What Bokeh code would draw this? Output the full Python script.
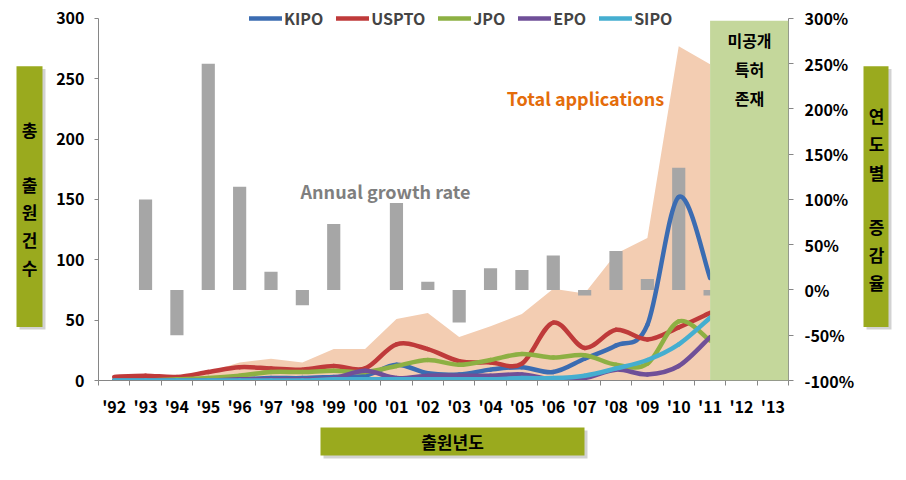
from bokeh.plotting import figure
from bokeh.layouts import row, column
from bokeh.models import (Range1d, LinearAxis, FixedTicker, PrintfTickFormatter,
                          BoxAnnotation, Label)
from bokeh.core.properties import value
from bokeh.embed import file_html
from bokeh.resources import INLINE

# ---------------- data ----------------
years = ["'92", "'93", "'94", "'95", "'96", "'97", "'98", "'99", "'00", "'01", "'02",
         "'03", "'04", "'05", "'06", "'07", "'08", "'09", "'10", "'11", "'12", "'13"]
kipo = [0, 0, 0, 0, 1, 2, 2, 3, 4, 13, 6, 5, 9, 11, 7, 18, 29, 46, 152, 85]
uspto = [3, 4, 3, 7, 11, 10, 9, 12, 10, 30, 26, 16, 15, 14, 48, 27, 42, 34, 44, 56]
jpo = [0, 0, 1, 2, 4, 7, 7, 8, 7, 12, 17, 13, 17, 22, 19, 21, 13, 14, 49, 33]
epo = [0, 0, 0, 0, 1, 1, 1, 2, 8, 2, 4, 4, 4, 5, 1, 2, 9, 5, 12, 36]
sipo = [0, 0, 0, 0, 0, 0, 0, 1, 1, 1, 1, 1, 1, 2, 2, 4, 10, 17, 30, 52]
total = [2, 4, 2, 7, 15, 18, 15, 26, 26, 51, 56, 36, 45, 55, 76, 72, 105, 118, 277, 262]
growth = [None, 100, -50, 250, 114, 20, -17, 73, 0, 96, 9, -36, 24, 22, 38, -6,
          43, 12, 135, -6, None, None]
series_names = ["KIPO", "USPTO", "JPO", "EPO", "SIPO"]
series_values = [kipo, uspto, jpo, epo, sipo]
series_colors = ["#3b6cb2", "#bf3a3a", "#8db043", "#6f4f98", "#45aed0"]
left_ticks = [0, 50, 100, 150, 200, 250, 300]
right_ticks = [-100, -50, 0, 50, 100, 150, 200, 250, 300]

FONT = "Noto Sans CJK KR"
OLIVE = "#9aaa1e"
n = len(years)
xc = [i + 0.5 for i in range(n)]

# page layout (px): left strip 0-50, main 50-858, right strip 858-906
LW, MW, RW = 50, 808, 48
TOPH, BOTH = 420, 58
FL, FB, FT = 98, 383, 18   # axis left / bottom / top (300) in page px
FRAME_TOP = 5              # frame extends above the axes so the legend fits
L_MAX, R_MIN, R_MAX = 300, -100, 300
pxu_l = (FB - FT) / L_MAX
pxu_r = (FB - FT) / (R_MAX - R_MIN)
extra = FT - FRAME_TOP

p = figure(width=MW, height=TOPH, output_backend="svg", toolbar_location=None,
           x_range=Range1d(0, n), y_range=Range1d(0, L_MAX + extra / pxu_l),
           min_border_left=FL - LW, min_border_right=LW + MW - 788,
           min_border_top=FRAME_TOP, min_border_bottom=TOPH - FB,
           outline_line_color=None, background_fill_color="white",
           border_fill_color="white")
p.grid.visible = False
p.extra_y_ranges = {"pct": Range1d(R_MIN, R_MAX + extra / pxu_r)}

AX = "#868686"
xa = p.xaxis[0]
xa.ticker = FixedTicker(ticks=xc, minor_ticks=list(range(n + 1)))
xa.major_label_overrides = {xc[i]: years[i] for i in range(n)}
xa.major_tick_line_color = None
xa.major_tick_out = 5
xa.minor_tick_out = 5
xa.minor_tick_in = 0
xa.minor_tick_line_color = AX
xa.axis_line_color = AX
xa.major_label_standoff = 8
xa.major_label_text_font = FONT
xa.major_label_text_font_style = "bold"
xa.major_label_text_font_size = "16px"
xa.major_label_text_color = "black"

ya = p.yaxis[0]
ya.ticker = FixedTicker(ticks=left_ticks)
ya.bounds = (0, L_MAX)
ya.minor_tick_line_color = None
ya.major_tick_out = 4
ya.major_tick_in = 0
ya.major_tick_line_color = AX
ya.axis_line_color = AX
ya.major_label_standoff = 10
ya.major_label_text_font = FONT
ya.major_label_text_font_style = "bold"
ya.major_label_text_font_size = "16px"
ya.major_label_text_color = "black"

ra = LinearAxis(y_range_name="pct", ticker=FixedTicker(ticks=right_ticks),
                formatter=PrintfTickFormatter(format="%d%%"), bounds=(R_MIN, R_MAX))
ra.minor_tick_line_color = None
ra.major_tick_out = 5
ra.major_tick_in = 0
ra.major_tick_line_color = AX
ra.axis_line_color = AX
ra.major_label_standoff = 11
ra.major_label_text_font = FONT
ra.major_label_text_font_style = "bold"
ra.major_label_text_font_size = "16px"
ra.major_label_text_color = "black"
p.add_layout(ra, "right")

# total applications area
p.varea(x=xc[:len(total)], y1=[0] * len(total), y2=total, fill_color="#f3cdb2")

# growth-rate bars
gx = [xc[i] for i in range(n) if growth[i] is not None]
gv = [g for g in growth if g is not None]
p.vbar(x=gx, top=gv, bottom=0, width=0.42, y_range_name="pct",
       fill_color="#a6a6a6", line_color=None)


# smoothed lines (Catmull-Rom -> cubic Bezier, like Excel smoothing)
def bez(xs, ys):
    m = len(xs)
    out = {k: [] for k in ["x0", "y0", "x1", "y1", "cx0", "cy0", "cx1", "cy1"]}
    for i in range(m - 1):
        a = max(i - 1, 0)
        d = min(i + 2, m - 1)
        out["x0"].append(xs[i]); out["y0"].append(ys[i])
        out["x1"].append(xs[i + 1]); out["y1"].append(ys[i + 1])
        out["cx0"].append(xs[i] + (xs[i + 1] - xs[a]) / 6.0)
        out["cy0"].append(ys[i] + (ys[i + 1] - ys[a]) / 6.0)
        out["cx1"].append(xs[i + 1] - (xs[d] - xs[i]) / 6.0)
        out["cy1"].append(ys[i + 1] - (ys[d] - ys[i]) / 6.0)
    return out


for name, vals, col in zip(series_names, series_values, series_colors):
    seg = bez(xc[:len(vals)], vals)
    p.bezier(line_color=col, line_width=4.5, line_cap="round",
             legend_label=name, **seg)

lg = p.legend[0]
lg.orientation = "horizontal"
lg.location = (151, 350)
lg.padding = 0
lg.margin = 0
lg.spacing = 13
lg.glyph_width = 33
lg.glyph_height = 20
lg.label_standoff = 2
lg.border_line_color = None
lg.background_fill_alpha = 0
lg.label_text_font = FONT
lg.label_text_font_style = "bold"
lg.label_text_font_size = "16px"


def sx(px):
    return px - FL


def sy(py):
    return FB - py


# unpublished-patent region
p.add_layout(BoxAnnotation(left=xc[years.index("'11")], right=n, bottom=0, top=298,
                           fill_color="#c4d79b", fill_alpha=1, line_color=None))
for txt, py in [("미공개", 42), ("특허", 71), ("존재", 100)]:
    p.add_layout(Label(x=sx(749), y=sy(py), x_units="screen", y_units="screen",
                       text=txt, text_font=FONT, text_font_size="16px",
                       text_font_style="bold", text_align="center",
                       text_baseline="middle", text_color="black"))

p.add_layout(Label(x=sx(385), y=sy(193), x_units="screen", y_units="screen",
                   text="Annual growth rate", text_font=FONT, text_font_size="18px",
                   text_font_style="bold", text_align="center", text_baseline="middle",
                   text_color="#7f7f7f"))
p.add_layout(Label(x=sx(585), y=sy(100), x_units="screen", y_units="screen",
                   text="Total applications", text_font=FONT, text_font_size="18px",
                   text_font_style="bold", text_align="center", text_baseline="middle",
                   text_color="#e46c0a"))


# ---------- side strips with olive title boxes ----------
def strip(w, h):
    f = figure(width=w, height=h, output_backend="svg", toolbar_location=None,
               x_range=Range1d(0, w), y_range=Range1d(h, 0),
               x_axis_type=None, y_axis_type=None, min_border=0,
               outline_line_color=None, background_fill_color="white",
               border_fill_color="white")
    f.grid.visible = False
    return f


def olive(f, l, t, r, b):
    f.quad(left=l + 3, right=r + 3, top=t + 3, bottom=b + 3,
           fill_color="#7f7f7f", fill_alpha=0.35, line_color=None)
    f.quad(left=l, right=r, top=t, bottom=b, fill_color=OLIVE, line_color=None)


def chars(f, x, items, size="17px"):
    f.text(x=[x] * len(items), y=[c[1] for c in items], text=[c[0] for c in items],
           text_font=value(FONT), text_font_size=size, text_font_style="bold",
           text_align="center", text_baseline="middle", text_color="black")


left = strip(LW, TOPH)
olive(left, 16, 68, 42, 360)
chars(left, 29, [("총", 139), ("출", 201), ("원", 231), ("건", 262), ("수", 293)])

rx0 = LW + MW
right = strip(RW, TOPH)
olive(right, 863 - rx0, 68, 888 - rx0, 360)
chars(right, 876 - rx0, [("연", 123), ("도", 155), ("별", 187), ("증", 248),
                         ("감", 279), ("율", 310)])

bottom = strip(LW + MW + RW, BOTH)
olive(bottom, 320, 427 - TOPH, 584, 455 - TOPH)
chars(bottom, 452, [("출원년도", 441 - TOPH)])

layout = column(row(left, p, right, spacing=0), bottom, spacing=0)
open("out.html", "w").write(file_html(layout, INLINE))
